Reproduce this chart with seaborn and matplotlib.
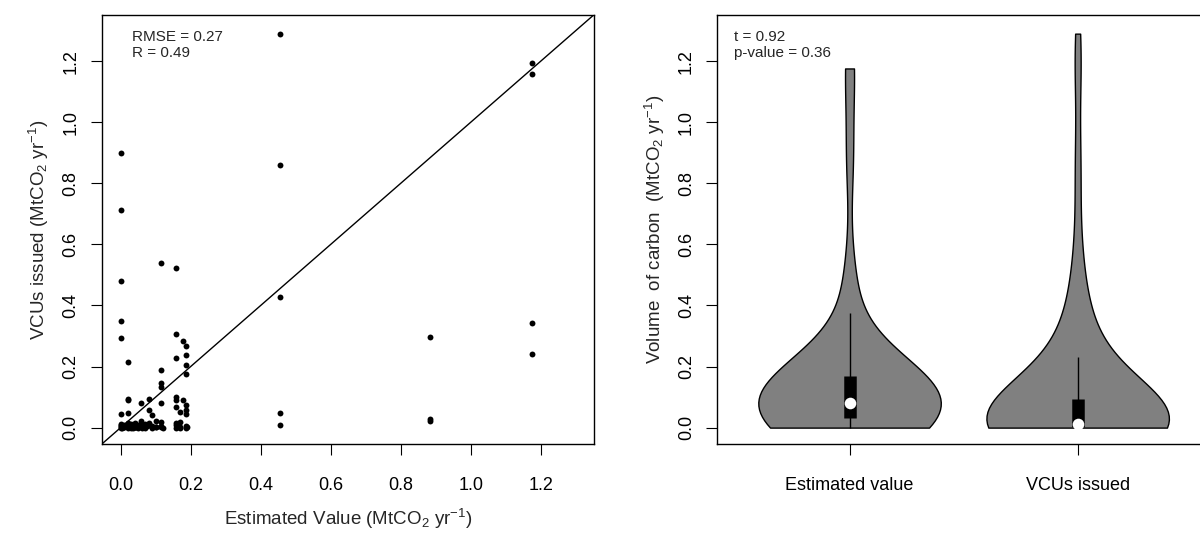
"""
Estimated carbon vs. VCUs issued: scatter with 1:1 line and violin comparison
"""

import numpy as np
import pandas as pd
import matplotlib
matplotlib.use("Agg")
import matplotlib.pyplot as plt
import seaborn as sns

# Estimated value (MtCO2/yr) and VCUs issued (MtCO2/yr), one entry per project
estimated = [
    0, 0, 0, 0, 0, 0, 0, 0, 0, 0, 0, 0.005,
    0.01, 0.01, 0.01, 0.01, 0.015,
    0.02, 0.02, 0.02, 0.02, 0.02, 0.02, 0.02, 0.02, 0.025,
    0.03, 0.03, 0.03, 0.03, 0.035, 0.035, 0.04, 0.04, 0.04, 0.04, 0.045,
    0.05, 0.05, 0.05, 0.05, 0.05, 0.058, 0.058, 0.058, 0.06, 0.06,
    0.065, 0.065, 0.07, 0.07, 0.07, 0.075, 0.08, 0.08, 0.08, 0.08,
    0.09, 0.09, 0.09, 0.10, 0.10, 0.10,
    0.116, 0.116, 0.116, 0.116, 0.116, 0.116, 0.116, 0.116, 0.12,
    0.158, 0.158, 0.158, 0.158, 0.158, 0.158, 0.158, 0.158, 0.158, 0.16,
    0.17, 0.17, 0.17, 0.17, 0.177, 0.177,
    0.188, 0.188, 0.188, 0.188, 0.188, 0.188, 0.188, 0.188, 0.188, 0.19,
    0.456, 0.456, 0.456, 0.456, 0.456,
    0.884, 0.884, 0.884,
    1.176, 1.176, 1.176, 1.176,
]
issued = [
    0.898, 0.712, 0.479, 0.350, 0.295, 0.045, 0.012, 0.005, 0.0, 0.002, 0.008, 0.0,
    0.01, 0.003, 0.006, 0.001, 0.004,
    0.215, 0.095, 0.089, 0.049, 0.015, 0.008, 0.002, 0.0, 0.01,
    0.012, 0.004, 0.0, 0.002, 0.007, 0.0, 0.015, 0.006, 0.001, 0.003, 0.003,
    0.01, 0.003, 0.0, 0.006, 0.001, 0.082, 0.02, 0.005, 0.001, 0.0,
    0.008, 0.002, 0.012, 0.002, 0.0, 0.004, 0.093, 0.059, 0.015, 0.008,
    0.04, 0.005, 0.0, 0.02, 0.003, 0.001,
    0.539, 0.19, 0.147, 0.132, 0.08, 0.018, 0.002, 0.006, 0.0,
    0.522, 0.307, 0.228, 0.1, 0.092, 0.067, 0.016, 0.01, 0.0, 0.004,
    0.05, 0.018, 0.002, 0.0, 0.285, 0.089,
    0.266, 0.239, 0.204, 0.177, 0.075, 0.058, 0.045, 0.005, 0.0, 0.002,
    1.29, 0.86, 0.427, 0.049, 0.008,
    0.296, 0.028, 0.02,
    1.194, 1.157, 0.344, 0.242,
]
group_labels = ["Estimated value", "VCUs issued"]
ticks = [0.0, 0.2, 0.4, 0.6, 0.8, 1.0, 1.2]
stats_left = ["RMSE = 0.27", "R = 0.49"]
stats_right = ["t = 0.92", "p-value = 0.36"]

sns.set_style("ticks")
plt.rcParams['font.family'] = ['Liberation Sans', 'DejaVu Sans']
plt.rcParams['mathtext.fontset'] = 'custom'
plt.rcParams['mathtext.rm'] = 'Liberation Sans'
plt.rcParams['mathtext.it'] = 'Liberation Sans:italic'
plt.rcParams['axes.edgecolor'] = 'black'
plt.rcParams['axes.linewidth'] = 1.0
plt.rcParams['xtick.color'] = 'black'
plt.rcParams['ytick.color'] = 'black'

unit = r"(MtCO$_2$ yr$^{-1}$)"
lims = (-0.054, 1.352)

fig = plt.figure(figsize=(12, 5.37), dpi=100)
ax1 = fig.add_axes([0.0848, 0.173, 0.4102, 0.7996])
ax2 = fig.add_axes([0.5977, 0.173, 0.4106, 0.7996])

# Left: scatter with 1:1 line
scat = pd.DataFrame({"est": estimated, "vcu": issued})
sns.scatterplot(data=scat, x="est", y="vcu", ax=ax1, color="black",
                s=18, linewidth=0, zorder=3)
ax1.axline((0, 0), slope=1, color="black", linewidth=1)
ax1.set_xlim(lims)
ax1.set_ylim(lims)
ax1.set_xticks(ticks)
ax1.set_yticks(ticks)
ax1.set_xticklabels([f"{t:.1f}" for t in ticks], fontsize=13)
ax1.set_yticklabels([f"{t:.1f}" for t in ticks], fontsize=13,
                    rotation=90, va="center")
ax1.set_xlabel("Estimated Value " + unit, fontsize=13.5, labelpad=9)
ax1.set_ylabel("VCUs issued " + unit, fontsize=13.5, labelpad=8)
ax1.text(0.062, 0.965, stats_left[0] + "\n" + stats_left[1],
         transform=ax1.transAxes, fontsize=11, va="top", linespacing=1.25)

# Right: violins
long = pd.DataFrame({
    "group": [group_labels[0]] * len(estimated) + [group_labels[1]] * len(issued),
    "value": estimated + issued,
})
sns.violinplot(data=long, x="group", y="value", order=group_labels, ax=ax2,
               color="#808080", saturation=1, cut=0, inner=None,
               linecolor="black", linewidth=1, width=0.8, bw_adjust=1.35,
               density_norm="width")
for i, vals in enumerate([estimated, issued]):
    vals = np.asarray(vals)
    q1, med, q3 = np.percentile(vals, [25, 50, 75])
    iqr = q3 - q1
    lo = max(vals.min(), q1 - 1.5 * iqr)
    hi = min(vals.max(), q3 + 1.5 * iqr)
    ax2.vlines(i, lo, hi, color="black", linewidth=1, zorder=3)
    ax2.vlines(i, q1, q3, color="black", linewidth=9, zorder=4)
    ax2.scatter([i], [med], s=70, color="white", zorder=5, linewidth=0)

ax2.set_xlim(-0.58, 1.58)
ax2.set_ylim(lims)
ax2.set_yticks(ticks)
ax2.set_yticklabels([f"{t:.1f}" for t in ticks], fontsize=13,
                    rotation=90, va="center")
ax2.tick_params(axis="x", labelsize=13, length=8, pad=16)
ax2.set_xlabel("")
ax2.set_ylabel("Volume  of carbon  " + unit, fontsize=13.5, labelpad=8)
ax2.text(0.034, 0.965, stats_right[0] + "\n" + stats_right[1],
         transform=ax2.transAxes, fontsize=11, va="top", linespacing=1.25)
ax1.tick_params(axis="x", length=8, pad=16)
ax1.tick_params(axis="y", length=8, pad=8)
ax2.tick_params(axis="y", length=8, pad=8)

for ax in (ax1, ax2):
    for sp in ax.spines.values():
        sp.set_visible(True)
        sp.set_color("black")

fig.savefig("out.png", dpi=100)
